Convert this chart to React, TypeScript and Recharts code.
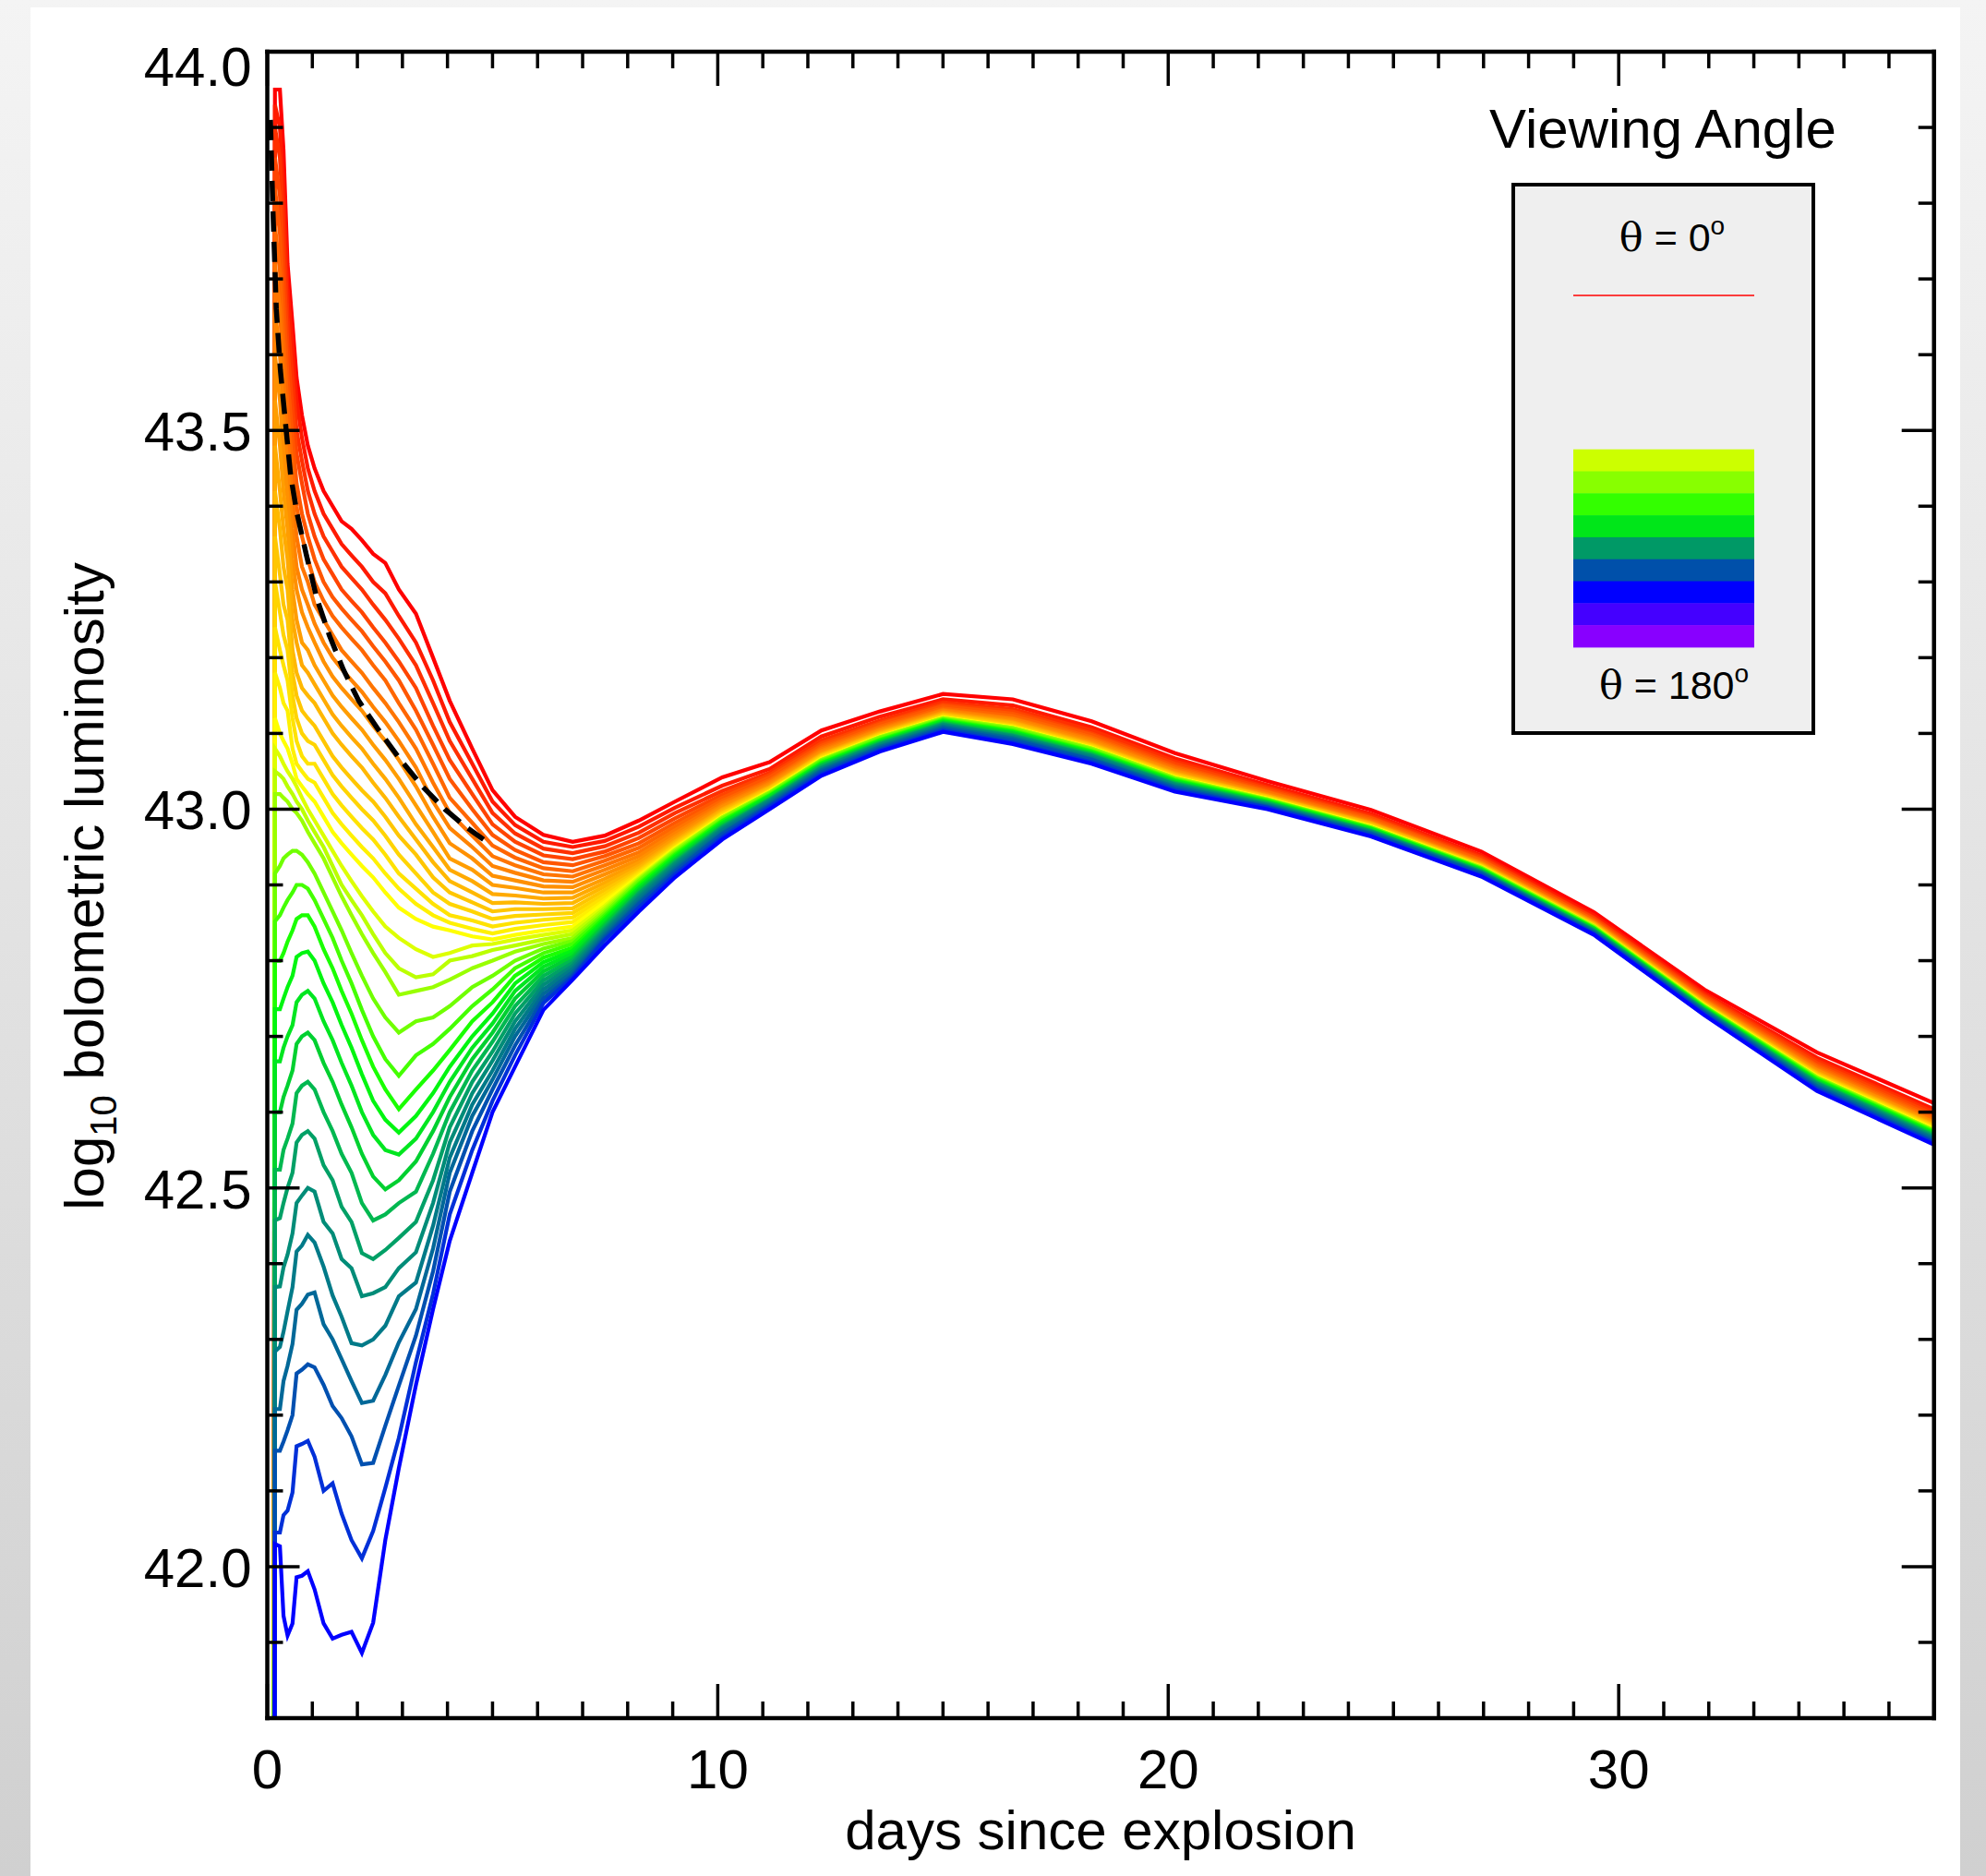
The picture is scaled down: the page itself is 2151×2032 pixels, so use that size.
import { LineChart, Line, XAxis, YAxis } from 'recharts';

const W = 2151;
const H = 2032;
const FONT = '"Liberation Sans", Arial, Helvetica, sans-serif';

// sampling times (days since explosion) shared by all viewing-angle curves
const days = [0.14, 0.17, 0.28, 0.36, 0.45, 0.56, 0.65, 0.77, 0.9, 1.05, 1.25, 1.45, 1.65, 1.87, 2.1, 2.35, 2.62, 2.92, 3.3, 3.68, 4.05, 4.55, 5.0, 5.5, 6.13, 6.78, 7.49, 8.25, 9.05, 10.1, 11.15, 12.3, 13.6, 15.0, 16.55, 18.3, 20.15, 22.2, 24.5, 26.95, 29.45, 31.9, 34.4, 37.0];

// log10 L for each viewing angle, theta = 0 (red) ... theta = 180 (blue)
const theta00 = [41.0, 43.95, 43.95, 43.87, 43.72, 43.64, 43.57, 43.52, 43.48, 43.45, 43.42, 43.40, 43.38, 43.37, 43.355, 43.337, 43.325, 43.29, 43.258, 43.20, 43.143, 43.08, 43.025, 42.99, 42.966, 42.957, 42.965, 42.985, 43.01, 43.042, 43.062, 43.104, 43.129, 43.152, 43.145, 43.116, 43.074, 43.037, 42.999, 42.944, 42.864, 42.762, 42.679, 42.612];
const theta01 = [41.0, 43.93, 43.90, 43.82, 43.69, 43.61, 43.54, 43.49, 43.45, 43.42, 43.39, 43.37, 43.35, 43.335, 43.32, 43.30, 43.285, 43.255, 43.22, 43.17, 43.115, 43.06, 43.01, 42.979, 42.957, 42.950, 42.958, 42.977, 43.002, 43.031, 43.053, 43.096, 43.122, 43.145, 43.137, 43.108, 43.067, 43.032, 42.994, 42.939, 42.860, 42.757, 42.672, 42.604];
const theta02 = [41.0, 43.90, 43.86, 43.77, 43.65, 43.57, 43.50, 43.46, 43.42, 43.39, 43.36, 43.34, 43.32, 43.305, 43.29, 43.27, 43.25, 43.225, 43.19, 43.14, 43.09, 43.04, 42.995, 42.968, 42.948, 42.942, 42.951, 42.969, 42.995, 43.024, 43.048, 43.091, 43.117, 43.141, 43.132, 43.104, 43.063, 43.029, 42.991, 42.937, 42.857, 42.755, 42.668, 42.600];
const theta03 = [41.0, 43.86, 43.81, 43.72, 43.61, 43.53, 43.47, 43.43, 43.39, 43.36, 43.33, 43.31, 43.29, 43.275, 43.26, 43.24, 43.22, 43.195, 43.16, 43.11, 43.065, 43.02, 42.98, 42.957, 42.939, 42.934, 42.944, 42.962, 42.988, 43.019, 43.045, 43.087, 43.114, 43.138, 43.129, 43.100, 43.060, 43.027, 42.989, 42.935, 42.856, 42.753, 42.665, 42.597];
const theta04 = [41.0, 43.82, 43.76, 43.67, 43.57, 43.49, 43.43, 43.39, 43.36, 43.33, 43.30, 43.28, 43.265, 43.25, 43.235, 43.215, 43.195, 43.17, 43.13, 43.085, 43.04, 43.0, 42.966, 42.946, 42.930, 42.926, 42.938, 42.955, 42.982, 43.015, 43.042, 43.084, 43.112, 43.136, 43.126, 43.098, 43.057, 43.025, 42.988, 42.933, 42.854, 42.751, 42.662, 42.594];
const theta05 = [41.0, 43.77, 43.71, 43.62, 43.53, 43.45, 43.40, 43.36, 43.33, 43.30, 43.275, 43.255, 43.24, 43.225, 43.21, 43.19, 43.17, 43.14, 43.105, 43.06, 43.015, 42.982, 42.952, 42.936, 42.922, 42.918, 42.932, 42.949, 42.977, 43.011, 43.038, 43.081, 43.109, 43.133, 43.123, 43.095, 43.055, 43.023, 42.986, 42.932, 42.853, 42.749, 42.660, 42.591];
const theta06 = [41.0, 43.72, 43.66, 43.57, 43.49, 43.41, 43.36, 43.32, 43.30, 43.27, 43.25, 43.23, 43.21, 43.195, 43.18, 43.16, 43.14, 43.115, 43.08, 43.035, 42.995, 42.965, 42.938, 42.926, 42.914, 42.911, 42.926, 42.943, 42.972, 43.008, 43.036, 43.079, 43.107, 43.131, 43.120, 43.093, 43.053, 43.022, 42.984, 42.930, 42.851, 42.748, 42.658, 42.589];
const theta07 = [41.0, 43.66, 43.60, 43.52, 43.45, 43.37, 43.32, 43.29, 43.27, 43.245, 43.22, 43.20, 43.185, 43.17, 43.155, 43.135, 43.115, 43.09, 43.055, 43.01, 42.975, 42.95, 42.925, 42.916, 42.906, 42.904, 42.92, 42.938, 42.968, 43.005, 43.034, 43.077, 43.105, 43.130, 43.119, 43.091, 43.051, 43.020, 42.983, 42.929, 42.851, 42.747, 42.656, 42.587];
const theta08 = [41.0, 43.60, 43.54, 43.47, 43.41, 43.33, 43.29, 43.26, 43.24, 43.22, 43.195, 43.175, 43.16, 43.145, 43.13, 43.11, 43.09, 43.065, 43.03, 42.99, 42.955, 42.935, 42.912, 42.906, 42.898, 42.897, 42.914, 42.933, 42.964, 43.003, 43.032, 43.075, 43.104, 43.128, 43.117, 43.089, 43.050, 43.019, 42.982, 42.928, 42.850, 42.746, 42.655, 42.586];
const theta09 = [41.0, 43.54, 43.48, 43.42, 43.37, 43.29, 43.25, 43.22, 43.21, 43.19, 43.17, 43.15, 43.135, 43.12, 43.105, 43.085, 43.065, 43.04, 43.005, 42.97, 42.935, 42.92, 42.90, 42.896, 42.890, 42.890, 42.908, 42.929, 42.961, 43.000, 43.030, 43.073, 43.102, 43.127, 43.115, 43.087, 43.048, 43.018, 42.981, 42.927, 42.849, 42.745, 42.653, 42.584];
const theta10 = [41.0, 43.48, 43.42, 43.37, 43.33, 43.25, 43.22, 43.19, 43.18, 43.165, 43.145, 43.125, 43.11, 43.095, 43.08, 43.06, 43.04, 43.015, 42.98, 42.95, 42.92, 42.905, 42.888, 42.886, 42.882, 42.883, 42.903, 42.925, 42.958, 42.999, 43.029, 43.072, 43.101, 43.126, 43.114, 43.086, 43.047, 43.017, 42.981, 42.927, 42.848, 42.744, 42.652, 42.583];
const theta11 = [41.0, 43.42, 43.37, 43.32, 43.29, 43.21, 43.18, 43.16, 43.15, 43.14, 43.12, 43.10, 43.085, 43.07, 43.055, 43.035, 43.015, 42.99, 42.96, 42.93, 42.905, 42.89, 42.876, 42.877, 42.875, 42.876, 42.898, 42.922, 42.956, 42.997, 43.028, 43.071, 43.100, 43.125, 43.113, 43.085, 43.046, 43.017, 42.980, 42.926, 42.848, 42.743, 42.651, 42.582];
const theta12 = [41.0, 43.36, 43.31, 43.27, 43.25, 43.18, 43.15, 43.13, 43.12, 43.11, 43.09, 43.07, 43.055, 43.04, 43.025, 43.01, 42.99, 42.965, 42.94, 42.91, 42.89, 42.877, 42.865, 42.868, 42.868, 42.869, 42.893, 42.919, 42.954, 42.995, 43.027, 43.070, 43.099, 43.124, 43.111, 43.084, 43.045, 43.016, 42.979, 42.925, 42.847, 42.743, 42.650, 42.581];
const theta13 = [41.0, 43.30, 43.26, 43.23, 43.21, 43.15, 43.12, 43.10, 43.09, 43.085, 43.065, 43.045, 43.03, 43.015, 43.0, 42.985, 42.965, 42.94, 42.915, 42.89, 42.875, 42.865, 42.855, 42.859, 42.861, 42.863, 42.888, 42.917, 42.952, 42.994, 43.025, 43.069, 43.098, 43.123, 43.110, 43.083, 43.044, 43.015, 42.978, 42.925, 42.846, 42.742, 42.649, 42.580];
const theta14 = [41.0, 43.24, 43.21, 43.19, 43.17, 43.12, 43.09, 43.07, 43.06, 43.06, 43.04, 43.02, 43.005, 42.99, 42.975, 42.96, 42.94, 42.915, 42.895, 42.875, 42.86, 42.853, 42.845, 42.85, 42.854, 42.857, 42.884, 42.915, 42.95, 42.992, 43.024, 43.067, 43.097, 43.122, 43.109, 43.082, 43.043, 43.014, 42.978, 42.924, 42.846, 42.741, 42.648, 42.579];
const theta15 = [41.0, 43.18, 43.16, 43.14, 43.13, 43.08, 43.06, 43.05, 43.04, 43.035, 43.015, 42.995, 42.98, 42.965, 42.95, 42.935, 42.915, 42.895, 42.875, 42.86, 42.85, 42.842, 42.836, 42.842, 42.847, 42.851, 42.88, 42.913, 42.949, 42.991, 43.024, 43.067, 43.096, 43.121, 43.108, 43.081, 43.042, 43.014, 42.977, 42.924, 42.845, 42.741, 42.647, 42.578];
const theta16 = [41.0, 43.12, 43.10, 43.09, 43.08, 43.06, 43.04, 43.03, 43.02, 43.01, 42.99, 42.97, 42.955, 42.94, 42.925, 42.91, 42.89, 42.87, 42.855, 42.845, 42.84, 42.832, 42.828, 42.834, 42.840, 42.845, 42.877, 42.911, 42.948, 42.990, 43.023, 43.066, 43.096, 43.121, 43.108, 43.081, 43.042, 43.014, 42.977, 42.923, 42.845, 42.741, 42.647, 42.577];
const theta17 = [41.0, 43.08, 43.07, 43.06, 43.05, 43.04, 43.03, 43.015, 43.0, 42.985, 42.965, 42.945, 42.925, 42.905, 42.885, 42.865, 42.845, 42.83, 42.815, 42.805, 42.81, 42.82, 42.822, 42.828, 42.834, 42.840, 42.872, 42.91, 42.947, 42.989, 43.022, 43.065, 43.095, 43.120, 43.107, 43.080, 43.041, 43.013, 42.976, 42.922, 42.844, 42.740, 42.646, 42.576];
const theta18 = [41.0, 43.05, 43.045, 43.04, 43.03, 43.02, 43.01, 43.0, 42.985, 42.97, 42.95, 42.925, 42.90, 42.88, 42.86, 42.835, 42.81, 42.79, 42.778, 42.782, 42.80, 42.806, 42.814, 42.82, 42.828, 42.835, 42.869, 42.908, 42.946, 42.989, 43.022, 43.065, 43.095, 43.120, 43.107, 43.080, 43.041, 43.013, 42.976, 42.923, 42.845, 42.740, 42.646, 42.576];
const theta19 = [41.0, 43.02, 43.02, 43.015, 43.01, 43.0, 42.995, 42.985, 42.97, 42.955, 42.935, 42.91, 42.885, 42.86, 42.835, 42.81, 42.785, 42.755, 42.76, 42.765, 42.775, 42.79, 42.80, 42.812, 42.822, 42.830, 42.866, 42.907, 42.945, 42.989, 43.022, 43.065, 43.095, 43.120, 43.107, 43.080, 43.041, 43.013, 42.976, 42.923, 42.845, 42.740, 42.646, 42.576];
const theta20 = [41.0, 42.915, 42.925, 42.935, 42.94, 42.945, 42.945, 42.94, 42.93, 42.915, 42.89, 42.865, 42.84, 42.81, 42.78, 42.75, 42.725, 42.705, 42.72, 42.725, 42.74, 42.765, 42.78, 42.80, 42.816, 42.826, 42.863, 42.905, 42.943, 42.987, 43.021, 43.064, 43.094, 43.119, 43.106, 43.079, 43.040, 43.012, 42.976, 42.922, 42.844, 42.739, 42.645, 42.575];
const theta21 = [41.0, 42.852, 42.86, 42.87, 42.88, 42.89, 42.90, 42.90, 42.895, 42.88, 42.855, 42.83, 42.80, 42.77, 42.735, 42.70, 42.67, 42.648, 42.675, 42.69, 42.71, 42.74, 42.762, 42.79, 42.81, 42.822, 42.86, 42.902, 42.941, 42.985, 43.019, 43.063, 43.092, 43.118, 43.104, 43.077, 43.039, 43.012, 42.975, 42.921, 42.843, 42.739, 42.644, 42.574];
const theta22 = [41.0, 42.80, 42.80, 42.81, 42.825, 42.84, 42.855, 42.86, 42.86, 42.845, 42.815, 42.79, 42.76, 42.73, 42.695, 42.66, 42.63, 42.604, 42.63, 42.655, 42.682, 42.72, 42.745, 42.78, 42.804, 42.817, 42.857, 42.90, 42.939, 42.984, 43.018, 43.061, 43.091, 43.117, 43.103, 43.076, 43.038, 43.011, 42.974, 42.921, 42.843, 42.738, 42.643, 42.573];
const theta23 = [41.0, 42.736, 42.736, 42.75, 42.765, 42.78, 42.805, 42.81, 42.812, 42.80, 42.77, 42.745, 42.715, 42.685, 42.65, 42.615, 42.59, 42.573, 42.595, 42.625, 42.66, 42.70, 42.73, 42.77, 42.798, 42.813, 42.854, 42.897, 42.937, 42.982, 43.017, 43.060, 43.090, 43.116, 43.102, 43.075, 43.037, 43.010, 42.974, 42.920, 42.842, 42.737, 42.642, 42.572];
const theta24 = [41.0, 42.667, 42.667, 42.685, 42.70, 42.715, 42.745, 42.755, 42.76, 42.75, 42.72, 42.695, 42.665, 42.635, 42.60, 42.57, 42.55, 42.544, 42.565, 42.60, 42.64, 42.685, 42.717, 42.76, 42.792, 42.809, 42.851, 42.895, 42.935, 42.981, 43.016, 43.059, 43.089, 43.115, 43.101, 43.074, 43.036, 43.009, 42.973, 42.919, 42.842, 42.737, 42.641, 42.571];
const theta25 = [41.0, 42.60, 42.60, 42.62, 42.635, 42.655, 42.69, 42.70, 42.705, 42.695, 42.665, 42.64, 42.61, 42.58, 42.545, 42.515, 42.498, 42.51, 42.535, 42.575, 42.62, 42.67, 42.705, 42.75, 42.786, 42.805, 42.848, 42.893, 42.933, 42.979, 43.014, 43.058, 43.088, 43.114, 43.100, 43.073, 43.035, 43.009, 42.972, 42.919, 42.841, 42.736, 42.640, 42.570];
const theta26 = [41.0, 42.524, 42.524, 42.55, 42.565, 42.585, 42.625, 42.635, 42.64, 42.63, 42.60, 42.575, 42.545, 42.52, 42.48, 42.457, 42.465, 42.48, 42.495, 42.545, 42.60, 42.655, 42.693, 42.74, 42.78, 42.801, 42.845, 42.89, 42.931, 42.977, 43.013, 43.057, 43.087, 43.113, 43.098, 43.072, 43.034, 43.008, 42.971, 42.918, 42.840, 42.735, 42.639, 42.569];
const theta27 = [41.0, 42.457, 42.46, 42.48, 42.50, 42.52, 42.56, 42.57, 42.575, 42.565, 42.53, 42.51, 42.475, 42.455, 42.414, 42.406, 42.418, 42.434, 42.455, 42.51, 42.58, 42.64, 42.68, 42.73, 42.774, 42.797, 42.842, 42.888, 42.929, 42.976, 43.012, 43.055, 43.086, 43.112, 43.097, 43.071, 43.033, 43.007, 42.971, 42.917, 42.840, 42.735, 42.638, 42.568];
const theta28 = [41.0, 42.369, 42.37, 42.395, 42.412, 42.44, 42.48, 42.49, 42.50, 42.495, 42.455, 42.44, 42.406, 42.394, 42.357, 42.361, 42.369, 42.394, 42.415, 42.48, 42.56, 42.625, 42.668, 42.72, 42.768, 42.793, 42.839, 42.885, 42.927, 42.974, 43.011, 43.054, 43.085, 43.111, 43.096, 43.070, 43.032, 43.006, 42.970, 42.917, 42.839, 42.734, 42.637, 42.566];
const theta29 = [41.0, 42.284, 42.29, 42.31, 42.337, 42.369, 42.416, 42.424, 42.438, 42.428, 42.396, 42.358, 42.33, 42.295, 42.292, 42.30, 42.318, 42.357, 42.375, 42.45, 42.54, 42.61, 42.655, 42.71, 42.762, 42.789, 42.836, 42.882, 42.924, 42.972, 43.009, 43.052, 43.083, 43.109, 43.094, 43.068, 43.030, 43.005, 42.969, 42.916, 42.838, 42.733, 42.635, 42.565];
const theta30 = [41.0, 42.208, 42.208, 42.245, 42.265, 42.294, 42.339, 42.347, 42.359, 42.362, 42.32, 42.30, 42.274, 42.245, 42.216, 42.219, 42.253, 42.296, 42.34, 42.42, 42.52, 42.595, 42.643, 42.70, 42.756, 42.785, 42.833, 42.878, 42.921, 42.969, 43.007, 43.051, 43.082, 43.108, 43.093, 43.066, 43.029, 43.004, 42.968, 42.915, 42.837, 42.732, 42.634, 42.563];
const theta31 = [41.0, 42.153, 42.153, 42.165, 42.18, 42.20, 42.255, 42.26, 42.267, 42.263, 42.24, 42.212, 42.196, 42.172, 42.135, 42.137, 42.186, 42.239, 42.305, 42.39, 42.495, 42.575, 42.63, 42.688, 42.75, 42.781, 42.83, 42.875, 42.918, 42.967, 43.005, 43.049, 43.080, 43.106, 43.091, 43.065, 43.027, 43.003, 42.967, 42.914, 42.836, 42.731, 42.632, 42.561];
const theta32 = [41.0, 42.045, 42.045, 42.068, 42.074, 42.098, 42.159, 42.162, 42.166, 42.145, 42.10, 42.11, 42.07, 42.035, 42.011, 42.047, 42.104, 42.17, 42.27, 42.36, 42.465, 42.55, 42.615, 42.675, 42.744, 42.778, 42.827, 42.87, 42.914, 42.963, 43.003, 43.046, 43.078, 43.104, 43.088, 43.062, 43.025, 43.002, 42.965, 42.912, 42.835, 42.729, 42.630, 42.559];
const theta33 = [41.0, 42.03, 42.027, 41.935, 41.909, 41.925, 41.986, 41.988, 41.994, 41.97, 41.925, 41.905, 41.91, 41.914, 41.886, 41.926, 42.035, 42.13, 42.24, 42.34, 42.43, 42.52, 42.60, 42.66, 42.735, 42.775, 42.82, 42.865, 42.91, 42.960, 43.000, 43.044, 43.076, 43.102, 43.086, 43.060, 43.023, 43.000, 42.964, 42.911, 42.834, 42.728, 42.628, 42.557];

const curves = [theta00, theta01, theta02, theta03, theta04, theta05, theta06, theta07, theta08, theta09, theta10, theta11, theta12, theta13, theta14, theta15, theta16, theta17, theta18, theta19, theta20, theta21, theta22, theta23, theta24, theta25, theta26, theta27, theta28, theta29, theta30, theta31, theta32, theta33];

const curveColors = ['#ff0000', '#ff1a00', '#ff3000', '#ff4400', '#ff5600', '#ff6600', '#ff7500', '#ff8300', '#ff9000', '#ff9d00', '#ffaa00', '#ffb800', '#ffc600', '#ffd400', '#ffe200', '#fff000', '#ffff00', '#ddff00', '#bbff00', '#99ff00', '#70ff00', '#44ff00', '#1aff00', '#00f510', '#00e620', '#00d030', '#00b850', '#00a066', '#008c78', '#007a88', '#006898', '#0050b0', '#0030d8', '#0000ff'];

// black dashed comparison curve
const modelDays = [0.07, 0.12, 0.2, 0.29, 0.42, 0.52, 0.66, 0.87, 1.1, 1.38, 1.69, 2.03, 2.44, 2.92, 3.46, 3.94, 4.4, 4.8];
const modelLum = [43.91, 43.80, 43.66, 43.58, 43.50, 43.44, 43.39, 43.335, 43.278, 43.229, 43.184, 43.143, 43.107, 43.068, 43.029, 43.0, 42.977, 42.96];

const dayTicks = [0, 1, 2, 3, 4, 5, 6, 7, 8, 9, 10, 11, 12, 13, 14, 15, 16, 17, 18, 19, 20, 21, 22, 23, 24, 25, 26, 27, 28, 29, 30, 31, 32, 33, 34, 35, 36, 37];
const lumTicks = [41.8, 41.9, 42.0, 42.1, 42.2, 42.3, 42.4, 42.5, 42.6, 42.7, 42.8, 42.9, 43.0, 43.1, 43.2, 43.3, 43.4, 43.5, 43.6, 43.7, 43.8, 43.9, 44.0];

const legendStripes = ['#ccff00', '#88ff00', '#33ff00', '#00e619', '#009966', '#0050aa', '#0000ff', '#4400ff', '#8800ff'];

const seriesOf = (vals: number[]) => days.map((t, i) => ({ t, v: vals[i] }));
const modelSeries = modelDays.map((t, i) => ({ t, v: modelLum[i] }));

const axisStyle = { stroke: '#000', strokeWidth: 4.5, strokeLinecap: 'square' as const };
const TICK_W = 3.5;

function BottomTick(props: any) {
  const { x, y, payload } = props;
  const major = payload.value % 10 === 0;
  return (
    <g>
      <line x1={x} y1={y} x2={x} y2={y - (major ? 37 : 18)} stroke="#000" strokeWidth={TICK_W} />
      {major && (
        <text x={x} y={y + 76} textAnchor="middle" fontSize={60} fontFamily={FONT} fill="#000">
          {payload.value}
        </text>
      )}
    </g>
  );
}

function TopTick(props: any) {
  const { x, y, payload } = props;
  const major = payload.value % 10 === 0;
  return <line x1={x} y1={y} x2={x} y2={y + (major ? 37 : 18)} stroke="#000" strokeWidth={TICK_W} />;
}

function LeftTick(props: any) {
  const { x, y, payload } = props;
  const v = payload.value as number;
  const major = Math.round(v * 10) % 5 === 0;
  return (
    <g>
      <line x1={x} y1={y} x2={x + (major ? 35 : 17)} y2={y} stroke="#000" strokeWidth={TICK_W} />
      {major && (
        <text x={x - 17} y={y + (v >= 44 ? 37 : 22)} textAnchor="end" fontSize={60} fontFamily={FONT} fill="#000">
          {v.toFixed(1)}
        </text>
      )}
    </g>
  );
}

function RightTick(props: any) {
  const { x, y, payload } = props;
  const major = Math.round(payload.value * 10) % 5 === 0;
  return <line x1={x} y1={y} x2={x - (major ? 35 : 17)} y2={y} stroke="#000" strokeWidth={TICK_W} />;
}

export default function App() {
  return (
    <div style={{ position: 'absolute', left: 0, top: 0, width: W, height: H, overflow: 'hidden', background: 'linear-gradient(#f4f4f4, #d0d0d0)' }}>
      <div style={{ position: 'absolute', left: 33, top: 8, width: 2090, height: 2024, background: '#fff' }} />
      <div style={{ position: 'absolute', left: 0, top: 0 }}>
        <LineChart width={W} height={H} margin={{ top: 55, right: 55.3, bottom: 21, left: 9.5 }}>
          <XAxis xAxisId="b" type="number" dataKey="t" domain={[0, 37]} ticks={dayTicks} interval={0}
            tickLine={false} tickSize={0} tickMargin={0} height={150} axisLine={axisStyle} tick={BottomTick} allowDataOverflow />
          <XAxis xAxisId="top" orientation="top" type="number" dataKey="t" domain={[0, 37]} ticks={dayTicks} interval={0}
            tickLine={false} tickSize={0} tickMargin={0} height={1} axisLine={axisStyle} tick={TopTick} allowDataOverflow />
          <YAxis yAxisId="l" type="number" domain={[41.8, 44]} ticks={lumTicks} interval={0}
            tickLine={false} tickSize={0} tickMargin={0} width={280} axisLine={axisStyle} tick={LeftTick} allowDataOverflow />
          <YAxis yAxisId="r" orientation="right" type="number" domain={[41.8, 44]} ticks={lumTicks} interval={0}
            tickLine={false} tickSize={0} tickMargin={0} width={1} axisLine={axisStyle} tick={RightTick} allowDataOverflow />
          {curves.map((vals, i) => (
            <Line key={i} xAxisId="b" yAxisId="l" data={seriesOf(vals)} dataKey="v" type="linear"
              stroke={curveColors[i]} strokeWidth={4.2} dot={false} activeDot={false} isAnimationActive={false} />
          ))}
          <Line xAxisId="top" yAxisId="r" data={modelSeries} dataKey="v" type="linear" stroke="#000"
            strokeWidth={5.5} strokeDasharray="22 11" dot={false} activeDot={false} isAnimationActive={false} />
        </LineChart>
      </div>
      <svg width={W} height={H} style={{ position: 'absolute', left: 0, top: 0, pointerEvents: 'none' }} fontFamily={FONT}>
        <text transform="translate(112,960) rotate(-90)" textAnchor="middle" fontSize={60} fill="#000">
          log<tspan fontSize={40} dy={14}>10</tspan><tspan dy={-14}> bolometric luminosity</tspan>
        </text>
        <text x={1192} y={2003} textAnchor="middle" fontSize={60} fill="#000">days since explosion</text>

        <text x={1801} y={160} textAnchor="middle" fontSize={60} fill="#000">Viewing Angle</text>
        <rect x={1639} y={200} width={325} height={594} fill="#efefef" stroke="#000" strokeWidth={4} />
        <text x={1811} y={272} textAnchor="middle" fontSize={43} fill="#000">
          <tspan fontFamily="DejaVu Serif">θ</tspan> = 0<tspan fontSize={28} dy={-18}>o</tspan>
        </text>
        <line x1={1704} x2={1900} y1={320} y2={320} stroke="#ff0000" strokeWidth={1.5} />
        {legendStripes.map((c, i) => (
          <rect key={c} x={1704} y={486.7 + i * 23.8} width={196} height={24.3} fill={c} />
        ))}
        <text x={1813} y={757} textAnchor="middle" fontSize={43} fill="#000">
          <tspan fontFamily="DejaVu Serif">θ</tspan> = 180<tspan fontSize={28} dy={-18}>o</tspan>
        </text>
      </svg>
    </div>
  );
}
